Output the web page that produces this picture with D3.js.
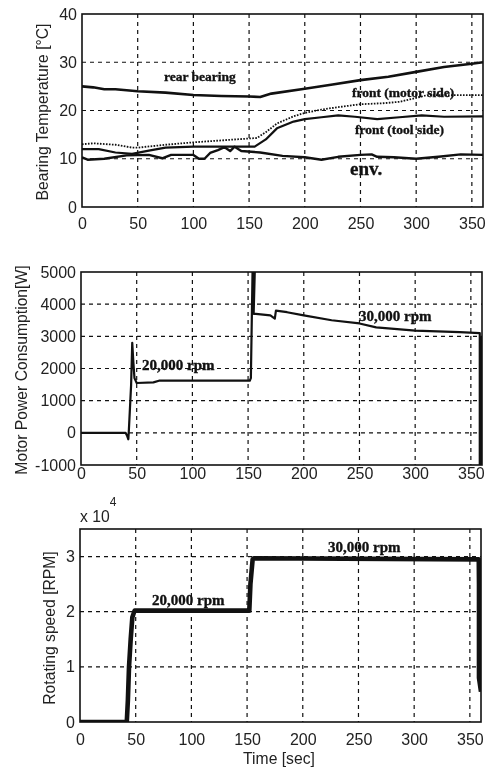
<!DOCTYPE html>
<html>
<head>
<meta charset="utf-8">
<script src="https://cdn.jsdelivr.net/npm/d3@7"></script>
<style>
  html, body { margin: 0; padding: 0; background: #fff; }
  svg { display: block; filter: blur(0.4px); }
  .tick text { font-family: "Liberation Sans", Arial, sans-serif; font-size: 16px; fill: #222; }
  .ylabel { font-family: "Liberation Sans", Arial, sans-serif; font-size: 15.7px; fill: #222; }
  .note { font-family: "Liberation Serif", "Times New Roman", serif; font-weight: bold; fill: #111; stroke: #111; stroke-width: 0.35px; }
</style>
</head>
<body>
<div id="chart"></div>
<script>
// values, [time, value]
const timeTicks = [0, 50, 100, 150, 200, 250, 300, 350];
const tempTicks = [0, 10, 20, 30, 40];
const powerTicks = [-1000, 0, 1000, 2000, 3000, 4000, 5000];
const speedTicks = [0, 1, 2, 3];

const rearBearing = [[0,25],[10,24.8],[20,24.4],[30,24.4],[50,24],[75,23.7],[100,23.2],[125,23],[150,22.9],[160,22.8],[170,23.5],[200,24.5],[225,25.4],[250,26.3],[275,27],[300,28],[325,29],[350,29.7],[360,30]];
const frontMotor = [[0,13],[10,13.2],[30,12.9],[45,12.3],[50,12.3],[75,12.9],[100,13.4],[125,13.8],[150,14.2],[157,14.3],[165,15.5],[175,17.3],[190,18.8],[200,19.5],[215,20.2],[230,20.7],[250,21.3],[270,21.5],[285,21.8],[300,22.6],[310,23.2],[330,23.2],[360,23.2]];
const frontTool = [[0,12],[15,12],[30,11.3],[45,11],[60,11.7],[75,12.3],[100,12.5],[125,12.5],[155,12.5],[165,14],[175,16.3],[190,17.7],[200,18.2],[215,18.6],[230,19],[245,18.7],[265,18.2],[285,18.6],[305,19],[325,18.7],[360,18.8]];
const envTemp = [[0,10.3],[5,9.8],[20,10],[40,10.7],[60,10.8],[72,10.1],[80,10.8],[100,10.8],[105,10],[110,10],[115,11.2],[122,11.8],[128,12.4],[133,11.6],[137,12.5],[143,11.6],[160,11.3],[180,10.6],[200,10.3],[215,9.8],[230,10.4],[250,10.8],[260,10.9],[265,10.4],[280,10.3],[300,10],[320,10.4],[340,10.9],[360,10.8]];
const motorPower = [[0,0],[40,0],[41.5,-100],[42.5,-200],[43,100],[45,1500],[46,2800],[47,2200],[48,1700],[50,1550],[65,1570],[70,1620],[151.5,1620],[152.5,1700],[154,5000],[156,5000],[155,3700],[157,3700],[170,3650],[174,3550],[175,3800],[185,3750],[200,3650],[225,3500],[250,3400],[265,3280],[300,3180],[340,3130],[358,3100],[358,-1000],[359.3,-1000],[359.3,3000]];
const rotatingSpeed = [[0,0],[42,0],[43,0.4],[44,1],[45.5,1.5],[47,1.9],[49,2.02],[152,2.02],[153,2.5],[155,2.95],[156,2.97],[358,2.95],[358.2,2.5],[358.2,0.8],[360,0.55]];

const noteLabels = ['rear bearing', 'front (motor side)', 'front (tool side)', 'env.', '20,000 rpm', '30,000 rpm'];

const svg = d3.select('#chart').append('svg').attr('width', 489).attr('height', 769);

function drawPanel(opt) {
  const w = 401, h = 193;
  const x = d3.scaleLinear().domain([0, 360]).range([0, w]);
  const y = d3.scaleLinear().domain(opt.yDomain).range([h, 0]);
  const g = svg.append('g').attr('transform', `translate(${opt.left},${opt.top})`);

  // dashed grid
  const grid = g.append('g').attr('stroke', '#111').attr('stroke-width', 1.2).attr('stroke-dasharray', '4 4');
  grid.selectAll('.vg').data(timeTicks.slice(1)).enter().append('line')
    .attr('x1', d => x(d)).attr('x2', d => x(d)).attr('y1', 0).attr('y2', h);
  grid.selectAll('.hg').data(opt.yTicks.slice(1, opt.yHasTop ? -1 : undefined)).enter().append('line')
    .attr('x1', 0).attr('x2', w).attr('y1', d => y(d)).attr('y2', d => y(d));

  // series, clipped to the frame
  const clipId = 'clip' + opt.top;
  g.append('clipPath').attr('id', clipId).append('rect').attr('width', w).attr('height', h);
  const line = d3.line().x(d => x(d[0])).y(d => y(d[1]));
  opt.series.forEach(s => {
    g.append('path').datum(s.data)
      .attr('clip-path', `url(#${clipId})`)
      .attr('fill', 'none').attr('stroke', '#111')
      .attr('stroke-width', s.width)
      .attr('stroke-dasharray', s.dash || null)
      .attr('stroke-linejoin', 'round')
      .attr('d', line);
  });

  g.append('rect').attr('width', w).attr('height', h)
    .attr('fill', 'none').attr('stroke', '#111').attr('stroke-width', 1.6);

  const xAxis = g.append('g').attr('transform', `translate(0,${h})`)
    .call(d3.axisBottom(x).tickValues(timeTicks).tickSize(0).tickPadding(opt.xPad));
  const yAxis = g.append('g')
    .call(d3.axisLeft(y).tickValues(opt.yTicks).tickSize(0).tickPadding(5).tickFormat(d => String(d)));
  xAxis.select('.domain').remove();
  yAxis.select('.domain').remove();

  return { g, x, y };
}

// top panel: bearing temperature
drawPanel({
  left: 82, top: 14, yDomain: [0, 40], yTicks: tempTicks, yHasTop: true, xPad: 11,
  series: [
    { data: frontMotor, width: 1.8, dash: '1.6 1.4' },
    { data: rearBearing, width: 2.6 },
    { data: frontTool, width: 2.2 },
    { data: envTemp, width: 2.4 }
  ]
});
// middle panel: motor power
drawPanel({
  left: 81, top: 272, yDomain: [-1000, 5000], yTicks: powerTicks, yHasTop: true, xPad: 3,
  series: [{ data: motorPower, width: 2.2 }]
});
// bottom panel: rotating speed
drawPanel({
  left: 80, top: 529, yDomain: [0, 3.5], yTicks: speedTicks, yHasTop: false, xPad: 12,
  series: [{ data: rotatingSpeed, width: 4.6 }]
});

function note(text, px, py, size) {
  svg.append('text').attr('class', 'note').attr('x', px).attr('y', py)
    .attr('font-size', size).text(text);
}
note(noteLabels[0], 164, 81, 13.5);
note(noteLabels[1], 352, 97, 13.5);
note(noteLabels[2], 355, 134, 13.5);
note(noteLabels[3], 350, 175, 19);
note(noteLabels[4], 142, 370, 15);
note(noteLabels[5], 359, 321, 15);
note(noteLabels[4], 152, 605, 15);
note(noteLabels[5], 328, 552, 15);

function yLabel(text, px, py) {
  svg.append('text').attr('class', 'ylabel').attr('text-anchor', 'middle')
    .attr('transform', `translate(${px},${py}) rotate(-90)`).text(text);
}
yLabel('Bearing Temperature [\u00b0C]', 48, 112);
yLabel('Motor Power Consumption[W]', 27, 370);
yLabel('Rotating speed [RPM]', 55, 628);

svg.append('text').attr('class', 'ylabel').attr('text-anchor', 'middle')
  .attr('x', 279).attr('y', 764).text('Time [sec]');

// matlab style exponent above the bottom axis
const expo = svg.append('text').attr('class', 'ylabel').attr('x', 80).attr('y', 522);
expo.append('tspan').text('x 10');
expo.append('tspan').attr('dy', -16).attr('font-size', 12).text('4');
</script>
</body>
</html>
